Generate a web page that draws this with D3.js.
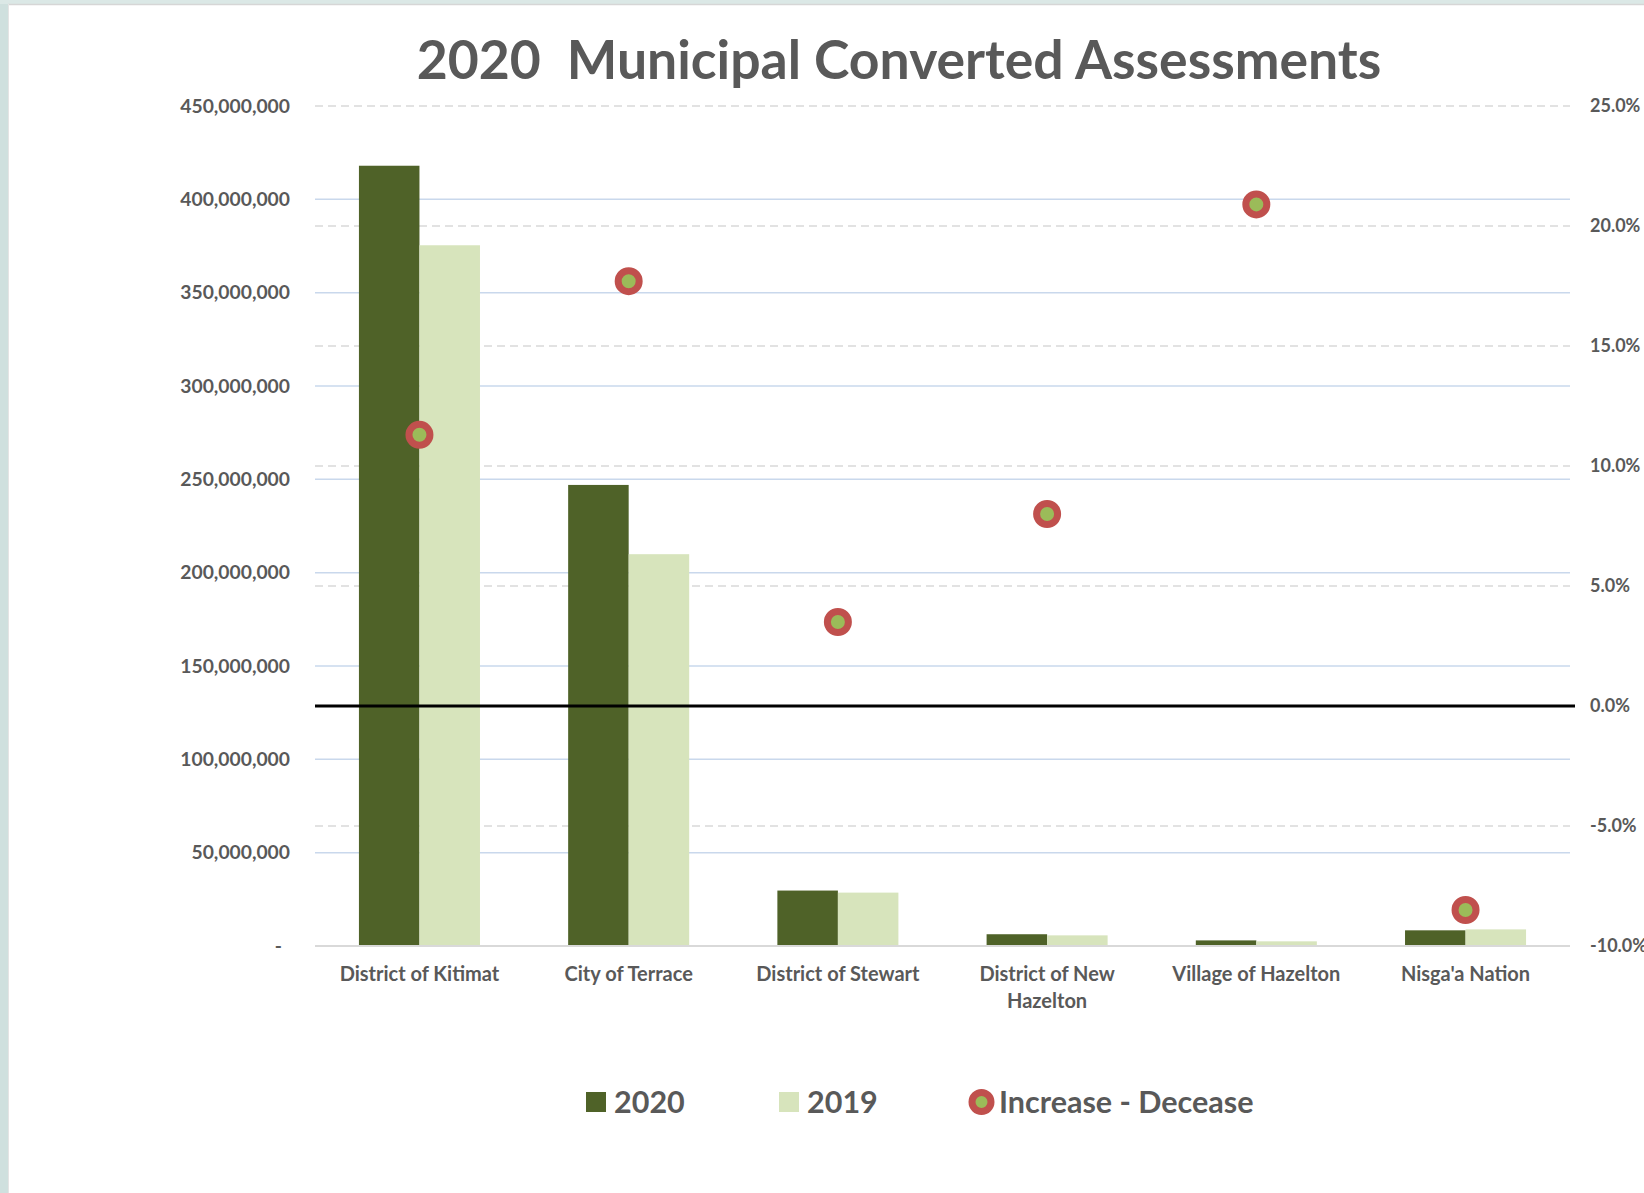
<!DOCTYPE html>
<html>
<head>
<meta charset="utf-8">
<script src="https://cdn.jsdelivr.net/npm/d3@7"></script>
<style>
  body { margin: 0; background: #fff; }
  svg { display: block; font-family: Lato, "Open Sans", sans-serif; }
</style>
</head>
<body>
<div class="container"></div>
<script>
// values
const municipalities = ["District of Kitimat", "City of Terrace", "District of Stewart",
                        "District of New Hazelton", "Village of Hazelton", "Nisga'a Nation"];
const labelLines = [["District of Kitimat"], ["City of Terrace"], ["District of Stewart"],
                    ["District of New", "Hazelton"], ["Village of Hazelton"], ["Nisga'a Nation"]];
const assess2020 = [418000000, 247000000, 29700000, 6300000, 3000000, 8400000];
const assess2019 = [375400000, 209900000, 28600000, 5700000, 2500000, 8900000];
const changePct = [11.3, 17.7, 3.5, 8.0, 20.9, -8.5];
const leftTicks = [0, 50e6, 100e6, 150e6, 200e6, 250e6, 300e6, 350e6, 400e6, 450e6];
const rightTicks = [-10, -5, 0, 5, 10, 15, 20, 25];
const seriesNames = ["2020", "2019"];

const w = 1644;
const h = 1193;
const textCol = "#595959";
const col2020 = "#4f6228";
const col2019 = "#d7e4bc";

const svg = d3.select(".container")
  .append("svg")
  .attr("width", w)
  .attr("height", h);

// frame around the pasted picture
svg.append("rect").attr("width", w).attr("height", h).attr("fill", "#fff");
svg.append("rect").attr("x", 0).attr("y", 0).attr("width", 8).attr("height", h).attr("fill", "#cfe0de");
svg.append("rect").attr("x", 0).attr("y", 0).attr("width", w).attr("height", 4).attr("fill", "#dbe8e6");
svg.append("line").attr("x1", 8).attr("x2", w).attr("y1", 4.5).attr("y2", 4.5)
  .attr("stroke", "#d6d6d6").attr("stroke-width", 1.5);
svg.append("line").attr("x1", 8.5).attr("x2", 8.5).attr("y1", 4).attr("y2", h)
  .attr("stroke", "#e4e4e4").attr("stroke-width", 1);

const x = d3.scaleBand()
  .domain(municipalities)
  .range([315, 1570])
  .paddingInner(0.4215)
  .paddingOuter(0.21);

const xs = d3.scaleBand()
  .domain(seriesNames)
  .range([0, x.bandwidth()]);

const y = d3.scaleLinear().domain([0, 450e6]).range([946, 106]);
const y2 = d3.scaleLinear().domain([-10, 25]).range([946, 106]);

// solid grid (left axis)
svg.append("g")
  .selectAll("line")
  .data(leftTicks.filter(d => d > 0 && d < 450e6))
  .enter()
  .append("line")
  .attr("x1", 315).attr("x2", 1570)
  .attr("y1", d => y(d)).attr("y2", d => y(d))
  .attr("stroke", "#c9d8ec")
  .attr("stroke-width", 1.5);

// dashed grid (right axis)
svg.append("g")
  .selectAll("line")
  .data(rightTicks.filter(d => d > -10))
  .enter()
  .append("line")
  .attr("x1", 315).attr("x2", 1570)
  .attr("y1", d => y2(d)).attr("y2", d => y2(d))
  .attr("stroke", "#d9d9d9")
  .attr("stroke-width", 1.5)
  .attr("stroke-dasharray", "8,5");

// bars
const rows = municipalities.map((m, i) => ({ m, vals: [assess2020[i], assess2019[i]] }));
const groups = svg.append("g")
  .selectAll("g")
  .data(rows)
  .enter()
  .append("g")
  .attr("transform", d => `translate(${x(d.m)},0)`);

groups.selectAll("rect")
  .data(d => d.vals.map((v, k) => ({ s: seriesNames[k], v })))
  .enter()
  .append("rect")
  .attr("x", d => xs(d.s))
  .attr("width", xs.bandwidth())
  .attr("y", d => y(d.v))
  .attr("height", d => y(0) - y(d.v))
  .attr("fill", d => d.s === "2020" ? col2020 : col2019);

// category axis line
svg.append("line")
  .attr("x1", 315).attr("x2", 1570)
  .attr("y1", y(0)).attr("y2", y(0))
  .attr("stroke", "#d9d9d9")
  .attr("stroke-width", 2);

// zero percent line
svg.append("line")
  .attr("x1", 315).attr("x2", 1575)
  .attr("y1", y2(0)).attr("y2", y2(0))
  .attr("stroke", "#000")
  .attr("stroke-width", 3.2);

// percent change markers
svg.append("g")
  .selectAll("circle")
  .data(changePct)
  .enter()
  .append("circle")
  .attr("cx", (d, i) => x(municipalities[i]) + x.bandwidth() / 2)
  .attr("cy", d => y2(d))
  .attr("r", 10.5)
  .attr("fill", "#9bbb59")
  .attr("stroke", "#c0504d")
  .attr("stroke-width", 7);

// left axis
const leftAxis = svg.append("g")
  .attr("transform", "translate(290,0)")
  .call(d3.axisLeft(y).tickValues(leftTicks).tickSize(0).tickPadding(0)
    .tickFormat(d => d === 0 ? "-" : d3.format(",")(d)));
leftAxis.select(".domain").remove();
leftAxis.selectAll("text")
  .attr("fill", textCol)
  .attr("font-size", 19.3)
  .attr("font-weight", "bold")
  .attr("font-family", "Lato, sans-serif")
  .attr("dx", d => d === 0 ? -8 : 0);

// right axis
const rightAxis = svg.append("g")
  .attr("transform", "translate(1590,0)")
  .call(d3.axisRight(y2).tickValues(rightTicks).tickSize(0).tickPadding(0)
    .tickFormat(d => d.toFixed(1) + "%"));
rightAxis.select(".domain").remove();
rightAxis.selectAll("text")
  .attr("fill", textCol)
  .attr("font-size", 18)
  .attr("font-weight", "bold")
  .attr("font-family", "Lato, sans-serif");

// category labels
const catLabels = svg.append("g")
  .selectAll("text")
  .data(municipalities)
  .enter()
  .append("text")
  .attr("x", d => x(d) + x.bandwidth() / 2)
  .attr("y", 981)
  .attr("text-anchor", "middle")
  .attr("fill", textCol)
  .attr("font-size", 20)
  .attr("font-weight", "bold");
catLabels.selectAll("tspan")
  .data((d, i) => labelLines[i])
  .enter()
  .append("tspan")
  .attr("x", function () { return d3.select(this.parentNode).attr("x"); })
  .attr("dy", (d, k) => k === 0 ? 0 : 27)
  .text(d => d);

// title
svg.append("text")
  .attr("x", 899)
  .attr("y", 79)
  .attr("text-anchor", "middle")
  .attr("fill", textCol)
  .attr("font-size", 53.5)
  .attr("font-weight", "bold")
  .attr("xml:space", "preserve")
  .style("white-space", "pre")
  .text("2020  Municipal Converted Assessments");

// legend
const legend = svg.append("g");
legend.append("rect").attr("x", 586).attr("y", 1092).attr("width", 20).attr("height", 20).attr("fill", col2020);
legend.append("text").attr("x", 614).attr("y", 1113).text("2020");
legend.append("rect").attr("x", 779).attr("y", 1092).attr("width", 20).attr("height", 20).attr("fill", col2019);
legend.append("text").attr("x", 807).attr("y", 1113).text("2019");
legend.append("circle").attr("cx", 981.5).attr("cy", 1102).attr("r", 9.5)
  .attr("fill", "#9bbb59").attr("stroke", "#c0504d").attr("stroke-width", 7);
legend.append("text").attr("x", 999).attr("y", 1113).text("Increase - Decease");
legend.selectAll("text")
  .attr("fill", textCol)
  .attr("font-size", 30.5)
  .attr("font-weight", "bold");
</script>
</body>
</html>
